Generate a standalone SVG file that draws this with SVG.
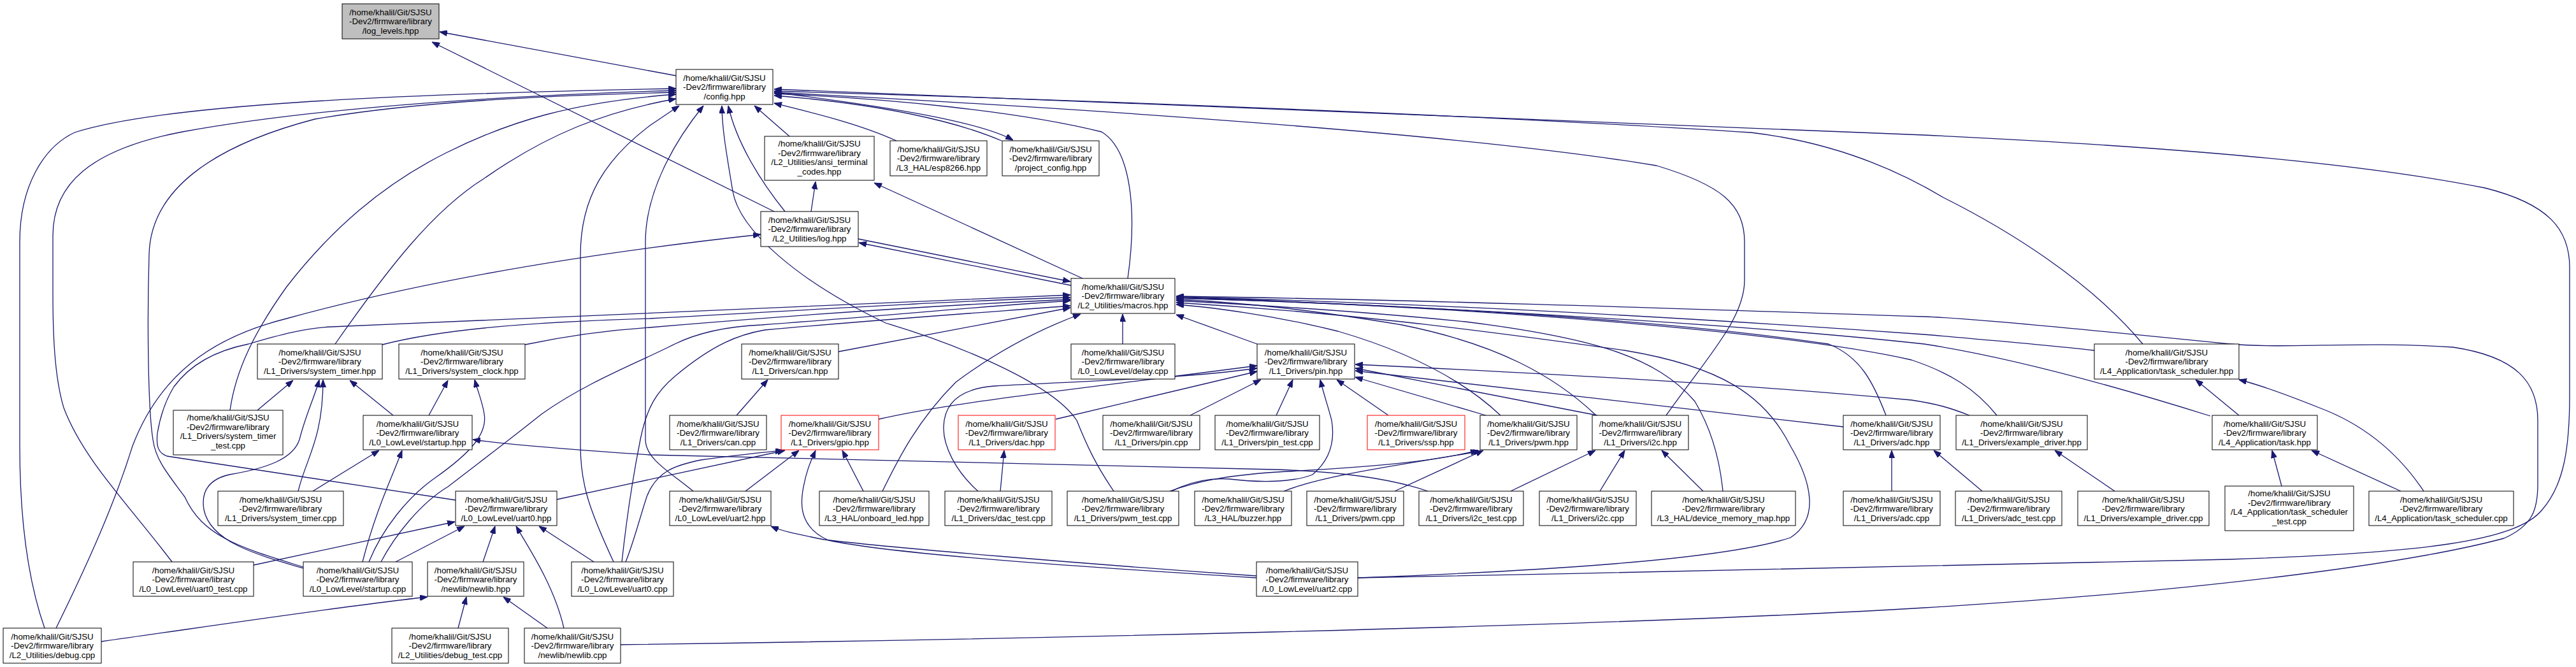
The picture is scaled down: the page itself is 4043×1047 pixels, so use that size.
<svg xmlns="http://www.w3.org/2000/svg" width="4043" height="1047" viewBox="0 0 4043 1047">
<style>
.n rect{fill:#fff;stroke:#000;stroke-width:1}
.n.g rect{fill:#bfbfbf}
.n.r rect{stroke:#ff0000}
.n text{font-family:"Liberation Sans",Arial,Helvetica,sans-serif;font-size:13.3px;text-anchor:middle;fill:#000}
.e path{fill:none;stroke:#191970;stroke-width:1.3;marker-end:url(#a)}
</style>
<defs>
<marker id="a" viewBox="0 0 12 9" refX="12" refY="4.5" markerWidth="12" markerHeight="9" markerUnits="userSpaceOnUse" orient="auto"><path d="M0,0 L12,4.5 L0,9 z" fill="#191970" stroke="#191970" stroke-width="1"/></marker>
</defs>
<rect width="4043" height="1047" fill="#fff"/>
<g class="e" id="edges">
<path d="M1062,119 L690,50"/>
<path d="M1215,332 L678,66"/>
<path d="M1239,214 L1184,166"/>
<path d="M1407,221 C1350,195 1280,178 1215,162"/>
<path d="M1215,145 C1400,168 1540,192 1590,220"/>
<path d="M1572,221 C1500,190 1380,163 1215,150"/>
<path d="M1232,332 C1190,280 1155,220 1143,166"/>
<path d="M1699,437 L1372,287"/>
<path d="M1273,332 L1280,285"/>
<path d="M1770,437 C1785,330 1775,235 1729,207 C1600,175 1400,155 1215,147"/>
<path d="M1347,375 L1680,442"/>
<path d="M1681,448 L1348,381"/>
<path d="M88,986 C140,880 180,790 208,700 C250,590 330,530 450,500 C650,445 900,400 1194,368"/>
<path d="M70,986 C40,900 31,800 31,700 L31,380 C31,290 70,230 117,208 C250,165 600,148 1061,139"/>
<path d="M270,882 C200,790 130,720 100,640 C85,590 83,520 83,460 L83,370 C83,290 140,235 286,207 C500,168 800,150 1061,142"/>
<path d="M476,890 C380,860 319,844 290,780 C260,740 244,720 240,690 C232,640 231,500 234,400 C236,300 330,230 494,187 C650,160 850,150 1061,145"/>
<path d="M361,644 C370,580 400,520 450,450 C520,360 600,290 700,240 C800,190 900,160 1061,148"/>
<path d="M526,540 C610,420 680,330 760,280 C860,210 950,175 1061,155"/>
<path d="M963,882 C925,800 911,760 911,700 L911,400 C911,310 950,250 1020,197 L1066,166"/>
<path d="M1088,771 C1050,740 1013,720 1013,690 L1013,380 C1013,300 1060,220 1104,166"/>
<path d="M1748,771 C1720,730 1706,700 1690,660 C1650,600 1500,540 1390,507 C1250,440 1160,360 1150,300 C1140,240 1133,200 1133,166"/>
<path d="M2615,652 C2680,560 2738,500 2738,440 L2738,380 C2738,320 2700,290 2600,260 C2300,210 1700,170 1215,145"/>
<path d="M3363,540 C3280,440 3150,360 3050,310 C2950,250 2850,220 2748,208 C2400,185 1800,160 1215,143"/>
<path d="M2131,907 C2600,897 3100,890 3500,878 C3800,868 3950,850 3990,800 C4025,760 4033,700 4033,620 L4033,420 C4033,360 4000,320 3900,295 C3700,255 3400,230 3020,212 L1215,140"/>
<path d="M974,1012 C1500,1005 2500,985 3020,954 C3500,925 3800,880 3930,845 C3975,825 3983,800 3983,760 L3983,660 C3983,600 3950,560 3850,545 C3700,535 3600,548 3500,540 C3300,520 3100,500 3020,497 C2600,483 2200,470 1846,465"/>
<path d="M2131,907 C2400,897 2700,880 2810,844 C2855,815 2845,760 2810,700 C2770,620 2700,575 2550,550 C2300,515 2100,490 1846,475"/>
<path d="M2704,771 C2700,730 2690,680 2660,630 C2600,560 2500,530 2300,505 C2150,490 2000,480 1846,472"/>
<path d="M2355,652 C2300,600 2220,555 2100,520 C2000,495 1900,482 1846,478"/>
<path d="M2505,652 C2440,590 2350,540 2200,510 C2050,485 1950,475 1846,470"/>
<path d="M2960,652 C2940,600 2920,560 2870,540 C2600,500 2200,478 1846,468"/>
<path d="M3134,652 C3100,610 3060,585 3000,565 C2800,520 2300,480 1846,468"/>
<path d="M3469,653 C3300,600 3150,560 3020,540 C2700,505 2200,480 1846,466"/>
<path d="M3287,550 C3200,540 3100,532 3020,525 C2600,495 2200,475 1846,466"/>
<path d="M1973,540 L1846,494"/>
<path d="M1762,540 L1762,493"/>
<path d="M1316,552 L1680,483"/>
<path d="M1385,771 C1410,720 1440,660 1500,600 C1580,540 1650,510 1696,493"/>
<path d="M600,541 C700,515 850,505 1020,500 C1300,485 1500,472 1680,467"/>
<path d="M824,541 C900,525 960,518 1020,514 C1300,490 1500,478 1680,470"/>
<path d="M715,785 L262,716 C248,711 245,700 247,680 C252,650 262,625 273,607 C300,570 340,550 390,540 C440,525 480,515 520,513 C800,500 1100,485 1680,463"/>
<path d="M598,882 C620,840 660,790 703,764 C760,720 800,690 850,650 C920,600 1000,570 1059,540 C1100,520 1150,512 1195,510 C1400,495 1550,480 1680,472"/>
<path d="M976,882 C985,800 995,740 1005,690 C1015,640 1030,615 1060,590 C1120,540 1160,525 1200,518 C1400,500 1550,490 1680,480"/>
<path d="M476,892 C400,870 330,850 320,800 C315,770 330,752 360,745 C420,735 460,720 470,690 C480,650 495,620 501,596"/>
<path d="M468,771 C480,720 507,690 507,596"/>
<path d="M404,644 L460,597"/>
<path d="M617,652 L549,597"/>
<path d="M673,652 L703,597"/>
<path d="M579,882 C600,830 640,780 683,750 C740,710 765,680 760,650 C757,630 750,615 745,596"/>
<path d="M491,771 L595,707"/>
<path d="M569,882 C590,800 615,750 631,707"/>
<path d="M2241,771 C2180,750 2100,740 2000,737 L1020,714 C900,706 800,698 742,690"/>
<path d="M398,887 L714,819"/>
<path d="M621,882 L729,826"/>
<path d="M758,882 L777,826"/>
<path d="M885,986 C870,920 830,860 810,826"/>
<path d="M932,882 L846,826"/>
<path d="M159,1007 C350,980 550,950 671,937"/>
<path d="M719,986 L732,937"/>
<path d="M859,986 L790,937"/>
<path d="M874,784 L1232,707"/>
<path d="M982,882 C995,850 1005,810 1015,780 C1030,740 1060,730 1100,722 C1150,715 1200,710 1229,707"/>
<path d="M1170,771 L1254,707"/>
<path d="M1972,907 C1700,890 1400,870 1300,848 C1260,830 1255,800 1260,770 C1265,740 1272,725 1280,707"/>
<path d="M1355,771 L1322,707"/>
<path d="M1972,904 C1700,885 1400,860 1293,847 C1260,840 1230,835 1210,826"/>
<path d="M1570,771 L1576,707"/>
<path d="M1535,771 C1500,740 1480,700 1481,670 C1482,630 1510,610 1560,606 C1700,598 1850,595 1973,578"/>
<path d="M1379,658 C1500,630 1700,610 1973,574"/>
<path d="M1657,658 L1973,583"/>
<path d="M1868,652 L1979,596"/>
<path d="M2003,652 L2029,596"/>
<path d="M1839,771 C1870,755 1900,750 1930,752 C1980,758 2030,757 2060,745 C2090,720 2095,690 2090,660 C2085,640 2078,620 2072,596"/>
<path d="M2179,652 L2098,596"/>
<path d="M2332,652 L2127,592"/>
<path d="M2507,652 L2127,578"/>
<path d="M2893,670 L2127,582"/>
<path d="M3091,652 C3060,640 3040,634 3000,628 C2700,600 2400,585 2127,572"/>
<path d="M1836,771 C1880,755 1930,745 2020,740 C2150,733 2250,725 2320,707"/>
<path d="M2015,771 C2080,745 2200,730 2324,708"/>
<path d="M2189,771 L2328,707"/>
<path d="M2371,771 L2504,707"/>
<path d="M2511,771 L2550,707"/>
<path d="M2673,771 L2608,707"/>
<path d="M2969,771 L2969,707"/>
<path d="M3111,771 L3035,707"/>
<path d="M3319,771 L3225,707"/>
<path d="M3581,763 L3566,707"/>
<path d="M3768,771 L3628,707"/>
<path d="M3804,771 C3770,720 3720,670 3640,640 C3590,620 3550,605 3514,596"/>
<path d="M3514,652 L3446,596"/>
<path d="M1156,652 L1205,596"/>
</g>
<g class="n g" id="n_log_levels"><rect x="537" y="6" width="152" height="55"/><text x="613" y="23.5">/home/khalil/Git/SJSU</text><text x="613" y="38">-Dev2/firmware/library</text><text x="613" y="52.5">/log_levels.hpp</text></g>
<g class="n" id="n_config"><rect x="1061" y="109" width="152" height="55"/><text x="1137" y="126.5">/home/khalil/Git/SJSU</text><text x="1137" y="141">-Dev2/firmware/library</text><text x="1137" y="155.5">/config.hpp</text></g>
<g class="n" id="n_ansi"><rect x="1200" y="214" width="172" height="69"/><text x="1286" y="230">/home/khalil/Git/SJSU</text><text x="1286" y="244.5">-Dev2/firmware/library</text><text x="1286" y="259">/L2_Utilities/ansi_terminal</text><text x="1286" y="273.5">_codes.hpp</text></g>
<g class="n" id="n_esp8266"><rect x="1397" y="221" width="152" height="55"/><text x="1473" y="238.5">/home/khalil/Git/SJSU</text><text x="1473" y="253">-Dev2/firmware/library</text><text x="1473" y="267.5">/L3_HAL/esp8266.hpp</text></g>
<g class="n" id="n_project_config"><rect x="1573" y="221" width="152" height="55"/><text x="1649" y="238.5">/home/khalil/Git/SJSU</text><text x="1649" y="253">-Dev2/firmware/library</text><text x="1649" y="267.5">/project_config.hpp</text></g>
<g class="n" id="n_log"><rect x="1194" y="332" width="153" height="55"/><text x="1270.5" y="349.5">/home/khalil/Git/SJSU</text><text x="1270.5" y="364">-Dev2/firmware/library</text><text x="1270.5" y="378.5">/L2_Utilities/log.hpp</text></g>
<g class="n" id="n_macros"><rect x="1681" y="437" width="163" height="55"/><text x="1762.5" y="454.5">/home/khalil/Git/SJSU</text><text x="1762.5" y="469">-Dev2/firmware/library</text><text x="1762.5" y="483.5">/L2_Utilities/macros.hpp</text></g>
<g class="n" id="n_system_timer_hpp"><rect x="404" y="540" width="196" height="55"/><text x="502" y="557.5">/home/khalil/Git/SJSU</text><text x="502" y="572">-Dev2/firmware/library</text><text x="502" y="586.5">/L1_Drivers/system_timer.hpp</text></g>
<g class="n" id="n_system_clock_hpp"><rect x="626" y="540" width="198" height="55"/><text x="725" y="557.5">/home/khalil/Git/SJSU</text><text x="725" y="572">-Dev2/firmware/library</text><text x="725" y="586.5">/L1_Drivers/system_clock.hpp</text></g>
<g class="n" id="n_can_hpp"><rect x="1164" y="540" width="152" height="55"/><text x="1240" y="557.5">/home/khalil/Git/SJSU</text><text x="1240" y="572">-Dev2/firmware/library</text><text x="1240" y="586.5">/L1_Drivers/can.hpp</text></g>
<g class="n" id="n_delay_cpp"><rect x="1681" y="540" width="163" height="55"/><text x="1762.5" y="557.5">/home/khalil/Git/SJSU</text><text x="1762.5" y="572">-Dev2/firmware/library</text><text x="1762.5" y="586.5">/L0_LowLevel/delay.cpp</text></g>
<g class="n" id="n_pin_hpp"><rect x="1973" y="540" width="153" height="55"/><text x="2049.5" y="557.5">/home/khalil/Git/SJSU</text><text x="2049.5" y="572">-Dev2/firmware/library</text><text x="2049.5" y="586.5">/L1_Drivers/pin.hpp</text></g>
<g class="n" id="n_task_scheduler_hpp"><rect x="3287" y="540" width="227" height="55"/><text x="3400.5" y="557.5">/home/khalil/Git/SJSU</text><text x="3400.5" y="572">-Dev2/firmware/library</text><text x="3400.5" y="586.5">/L4_Application/task_scheduler.hpp</text></g>
<g class="n" id="n_system_timer_test"><rect x="272" y="644" width="172" height="70"/><text x="358" y="660">/home/khalil/Git/SJSU</text><text x="358" y="674.5">-Dev2/firmware/library</text><text x="358" y="689">/L1_Drivers/system_timer</text><text x="358" y="703.5">_test.cpp</text></g>
<g class="n" id="n_startup_hpp"><rect x="570" y="652" width="171" height="54"/><text x="655.5" y="669.5">/home/khalil/Git/SJSU</text><text x="655.5" y="684">-Dev2/firmware/library</text><text x="655.5" y="698.5">/L0_LowLevel/startup.hpp</text></g>
<g class="n" id="n_can_cpp"><rect x="1051" y="652" width="152" height="54"/><text x="1127" y="669.5">/home/khalil/Git/SJSU</text><text x="1127" y="684">-Dev2/firmware/library</text><text x="1127" y="698.5">/L1_Drivers/can.cpp</text></g>
<g class="n r" id="n_gpio"><rect x="1226" y="652" width="153" height="54"/><text x="1302.5" y="669.5">/home/khalil/Git/SJSU</text><text x="1302.5" y="684">-Dev2/firmware/library</text><text x="1302.5" y="698.5">/L1_Drivers/gpio.hpp</text></g>
<g class="n r" id="n_dac"><rect x="1504" y="652" width="152" height="54"/><text x="1580" y="669.5">/home/khalil/Git/SJSU</text><text x="1580" y="684">-Dev2/firmware/library</text><text x="1580" y="698.5">/L1_Drivers/dac.hpp</text></g>
<g class="n" id="n_pin_cpp"><rect x="1731" y="652" width="152" height="54"/><text x="1807" y="669.5">/home/khalil/Git/SJSU</text><text x="1807" y="684">-Dev2/firmware/library</text><text x="1807" y="698.5">/L1_Drivers/pin.cpp</text></g>
<g class="n" id="n_pin_test"><rect x="1907" y="652" width="164" height="54"/><text x="1989" y="669.5">/home/khalil/Git/SJSU</text><text x="1989" y="684">-Dev2/firmware/library</text><text x="1989" y="698.5">/L1_Drivers/pin_test.cpp</text></g>
<g class="n r" id="n_ssp"><rect x="2146" y="652" width="153" height="54"/><text x="2222.5" y="669.5">/home/khalil/Git/SJSU</text><text x="2222.5" y="684">-Dev2/firmware/library</text><text x="2222.5" y="698.5">/L1_Drivers/ssp.hpp</text></g>
<g class="n" id="n_pwm_hpp"><rect x="2323" y="652" width="152" height="54"/><text x="2399" y="669.5">/home/khalil/Git/SJSU</text><text x="2399" y="684">-Dev2/firmware/library</text><text x="2399" y="698.5">/L1_Drivers/pwm.hpp</text></g>
<g class="n" id="n_i2c_hpp"><rect x="2499" y="652" width="151" height="54"/><text x="2574.5" y="669.5">/home/khalil/Git/SJSU</text><text x="2574.5" y="684">-Dev2/firmware/library</text><text x="2574.5" y="698.5">/L1_Drivers/i2c.hpp</text></g>
<g class="n" id="n_adc_hpp"><rect x="2893" y="652" width="152" height="54"/><text x="2969" y="669.5">/home/khalil/Git/SJSU</text><text x="2969" y="684">-Dev2/firmware/library</text><text x="2969" y="698.5">/L1_Drivers/adc.hpp</text></g>
<g class="n" id="n_example_driver_hpp"><rect x="3070" y="652" width="206" height="54"/><text x="3173" y="669.5">/home/khalil/Git/SJSU</text><text x="3173" y="684">-Dev2/firmware/library</text><text x="3173" y="698.5">/L1_Drivers/example_driver.hpp</text></g>
<g class="n" id="n_task_hpp"><rect x="3472" y="652" width="165" height="54"/><text x="3554.5" y="669.5">/home/khalil/Git/SJSU</text><text x="3554.5" y="684">-Dev2/firmware/library</text><text x="3554.5" y="698.5">/L4_Application/task.hpp</text></g>
<g class="n" id="n_system_timer_cpp"><rect x="342" y="771" width="197" height="54"/><text x="440.5" y="788.5">/home/khalil/Git/SJSU</text><text x="440.5" y="803">-Dev2/firmware/library</text><text x="440.5" y="817.5">/L1_Drivers/system_timer.cpp</text></g>
<g class="n" id="n_uart0_hpp"><rect x="715" y="771" width="159" height="54"/><text x="794.5" y="788.5">/home/khalil/Git/SJSU</text><text x="794.5" y="803">-Dev2/firmware/library</text><text x="794.5" y="817.5">/L0_LowLevel/uart0.hpp</text></g>
<g class="n" id="n_uart2_hpp"><rect x="1051" y="771" width="159" height="54"/><text x="1130.5" y="788.5">/home/khalil/Git/SJSU</text><text x="1130.5" y="803">-Dev2/firmware/library</text><text x="1130.5" y="817.5">/L0_LowLevel/uart2.hpp</text></g>
<g class="n" id="n_onboard_led"><rect x="1286" y="771" width="172" height="54"/><text x="1372" y="788.5">/home/khalil/Git/SJSU</text><text x="1372" y="803">-Dev2/firmware/library</text><text x="1372" y="817.5">/L3_HAL/onboard_led.hpp</text></g>
<g class="n" id="n_dac_test"><rect x="1483" y="771" width="168" height="54"/><text x="1567" y="788.5">/home/khalil/Git/SJSU</text><text x="1567" y="803">-Dev2/firmware/library</text><text x="1567" y="817.5">/L1_Drivers/dac_test.cpp</text></g>
<g class="n" id="n_pwm_test"><rect x="1675" y="771" width="175" height="54"/><text x="1762.5" y="788.5">/home/khalil/Git/SJSU</text><text x="1762.5" y="803">-Dev2/firmware/library</text><text x="1762.5" y="817.5">/L1_Drivers/pwm_test.cpp</text></g>
<g class="n" id="n_buzzer"><rect x="1875" y="771" width="152" height="54"/><text x="1951" y="788.5">/home/khalil/Git/SJSU</text><text x="1951" y="803">-Dev2/firmware/library</text><text x="1951" y="817.5">/L3_HAL/buzzer.hpp</text></g>
<g class="n" id="n_pwm_cpp"><rect x="2051" y="771" width="152" height="54"/><text x="2127" y="788.5">/home/khalil/Git/SJSU</text><text x="2127" y="803">-Dev2/firmware/library</text><text x="2127" y="817.5">/L1_Drivers/pwm.cpp</text></g>
<g class="n" id="n_i2c_test"><rect x="2227" y="771" width="164" height="54"/><text x="2309" y="788.5">/home/khalil/Git/SJSU</text><text x="2309" y="803">-Dev2/firmware/library</text><text x="2309" y="817.5">/L1_Drivers/i2c_test.cpp</text></g>
<g class="n" id="n_i2c_cpp"><rect x="2416" y="771" width="152" height="54"/><text x="2492" y="788.5">/home/khalil/Git/SJSU</text><text x="2492" y="803">-Dev2/firmware/library</text><text x="2492" y="817.5">/L1_Drivers/i2c.cpp</text></g>
<g class="n" id="n_device_memory_map"><rect x="2592" y="771" width="226" height="54"/><text x="2705" y="788.5">/home/khalil/Git/SJSU</text><text x="2705" y="803">-Dev2/firmware/library</text><text x="2705" y="817.5">/L3_HAL/device_memory_map.hpp</text></g>
<g class="n" id="n_adc_cpp"><rect x="2893" y="771" width="152" height="54"/><text x="2969" y="788.5">/home/khalil/Git/SJSU</text><text x="2969" y="803">-Dev2/firmware/library</text><text x="2969" y="817.5">/L1_Drivers/adc.cpp</text></g>
<g class="n" id="n_adc_test"><rect x="3069" y="771" width="167" height="54"/><text x="3152.5" y="788.5">/home/khalil/Git/SJSU</text><text x="3152.5" y="803">-Dev2/firmware/library</text><text x="3152.5" y="817.5">/L1_Drivers/adc_test.cpp</text></g>
<g class="n" id="n_example_driver_cpp"><rect x="3261" y="771" width="206" height="54"/><text x="3364" y="788.5">/home/khalil/Git/SJSU</text><text x="3364" y="803">-Dev2/firmware/library</text><text x="3364" y="817.5">/L1_Drivers/example_driver.cpp</text></g>
<g class="n" id="n_task_scheduler_test"><rect x="3492" y="763" width="202" height="70"/><text x="3593" y="779">/home/khalil/Git/SJSU</text><text x="3593" y="793.5">-Dev2/firmware/library</text><text x="3593" y="808">/L4_Application/task_scheduler</text><text x="3593" y="822.5">_test.cpp</text></g>
<g class="n" id="n_task_scheduler_cpp"><rect x="3718" y="771" width="227" height="54"/><text x="3831.5" y="788.5">/home/khalil/Git/SJSU</text><text x="3831.5" y="803">-Dev2/firmware/library</text><text x="3831.5" y="817.5">/L4_Application/task_scheduler.cpp</text></g>
<g class="n" id="n_uart0_test"><rect x="209" y="882" width="189" height="54"/><text x="303.5" y="899.5">/home/khalil/Git/SJSU</text><text x="303.5" y="914">-Dev2/firmware/library</text><text x="303.5" y="928.5">/L0_LowLevel/uart0_test.cpp</text></g>
<g class="n" id="n_startup_cpp"><rect x="476" y="882" width="171" height="54"/><text x="561.5" y="899.5">/home/khalil/Git/SJSU</text><text x="561.5" y="914">-Dev2/firmware/library</text><text x="561.5" y="928.5">/L0_LowLevel/startup.cpp</text></g>
<g class="n" id="n_newlib_hpp"><rect x="671" y="882" width="151" height="54"/><text x="746.5" y="899.5">/home/khalil/Git/SJSU</text><text x="746.5" y="914">-Dev2/firmware/library</text><text x="746.5" y="928.5">/newlib/newlib.hpp</text></g>
<g class="n" id="n_uart0_cpp"><rect x="897" y="882" width="160" height="54"/><text x="977" y="899.5">/home/khalil/Git/SJSU</text><text x="977" y="914">-Dev2/firmware/library</text><text x="977" y="928.5">/L0_LowLevel/uart0.cpp</text></g>
<g class="n" id="n_uart2_cpp"><rect x="1972" y="882" width="159" height="54"/><text x="2051.5" y="899.5">/home/khalil/Git/SJSU</text><text x="2051.5" y="914">-Dev2/firmware/library</text><text x="2051.5" y="928.5">/L0_LowLevel/uart2.cpp</text></g>
<g class="n" id="n_debug_cpp"><rect x="5" y="986" width="154" height="55"/><text x="82" y="1003.5">/home/khalil/Git/SJSU</text><text x="82" y="1018">-Dev2/firmware/library</text><text x="82" y="1032.5">/L2_Utilities/debug.cpp</text></g>
<g class="n" id="n_debug_test"><rect x="615" y="986" width="183" height="55"/><text x="706.5" y="1003.5">/home/khalil/Git/SJSU</text><text x="706.5" y="1018">-Dev2/firmware/library</text><text x="706.5" y="1032.5">/L2_Utilities/debug_test.cpp</text></g>
<g class="n" id="n_newlib_cpp"><rect x="823" y="986" width="151" height="55"/><text x="898.5" y="1003.5">/home/khalil/Git/SJSU</text><text x="898.5" y="1018">-Dev2/firmware/library</text><text x="898.5" y="1032.5">/newlib/newlib.cpp</text></g>
</svg>
